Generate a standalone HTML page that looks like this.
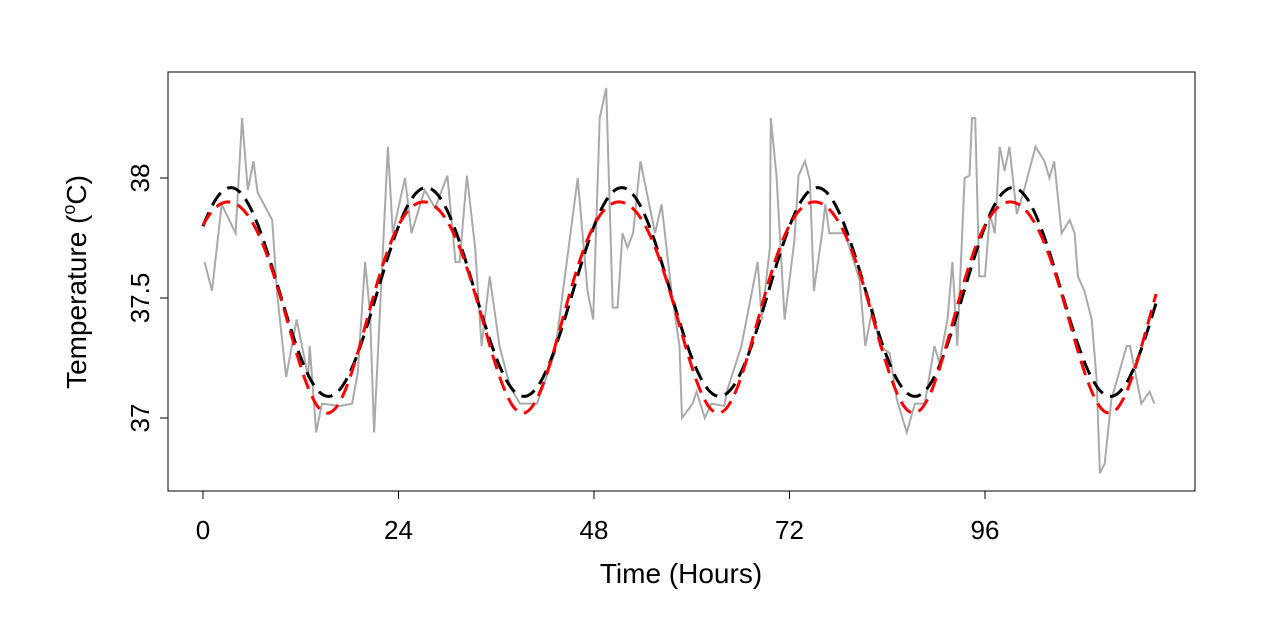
<!DOCTYPE html>
<html><head><meta charset="utf-8"><style>body{margin:0;background:#fff}svg{display:block;font-family:"Liberation Sans",Arial,sans-serif}</style></head>
<body>
<svg id="chart" width="1266" height="635" viewBox="0 0 1266 635" xmlns="http://www.w3.org/2000/svg">
<rect x="168" y="72" width="1027" height="419" fill="none" stroke="#000" stroke-width="1"/>
<g id="marks"></g>
<g id="axes"></g>
<text x="681" y="583" font-size="28" text-anchor="middle">Time (Hours)</text>
<text transform="translate(86,282) rotate(-90)" font-size="28" text-anchor="middle">Temperature (<tspan font-size="18" dy="-11">o</tspan><tspan dy="11">C)</tspan></text>
</svg>
<script>
const obsTime=[0.2,1.1,2.3,4,4.8,5.5,6.2,6.7,8.5,9.1,10.2,11.5,12.9,13.1,13.9,14.6,16.8,18.3,19,19.9,20.5,21,22.7,23.3,24.8,25.6,27.2,28.5,30,31,31.5,32.4,33.4,34.2,35.2,36.4,37.7,38.9,41,43.2,44.2,46,47.2,47.9,48.7,49.5,50.3,50.9,51.5,52.1,52.8,53.7,55.5,56.3,57.5,58.5,58.8,60.1,60.6,61.6,62.4,64,64.3,66.1,68.1,68.6,69.6,69.7,70.4,71.4,72.6,73.1,73.9,74.5,75,76,76.4,76.9,78.8,80.6,81.3,82.2,83.1,84.3,85.2,86.4,87.4,88.6,89.8,90.4,91.4,92,92.6,93.5,94.1,94.4,94.8,95.3,96,96.6,97.2,97.8,98.4,99,99.9,100.8,102.2,103.3,103.9,104.5,105.4,106.4,107,107.4,108.2,109.1,109.7,110.1,110.7,111.5,113.4,113.8,115.2,116.2,116.8];
const obsTemp=[37.65,37.53,37.89,37.77,38.25,37.95,38.07,37.94,37.825,37.52,37.17,37.41,37.17,37.3,36.94,37.06,37.05,37.06,37.19,37.65,37.44,36.94,38.13,37.77,38.0,37.77,37.95,37.875,38.01,37.65,37.65,38.01,37.71,37.3,37.59,37.3,37.13,37.06,37.06,37.27,37.53,38.0,37.53,37.41,38.25,38.375,37.46,37.46,37.77,37.71,37.77,38.07,37.77,37.89,37.53,37.3,37.0,37.06,37.11,37.0,37.06,37.05,37.11,37.3,37.65,37.41,37.71,38.25,38.01,37.41,37.74,38.01,38.07,37.99,37.53,37.77,37.89,37.77,37.77,37.575,37.3,37.46,37.3,37.27,37.075,36.94,37.06,37.06,37.3,37.23,37.41,37.65,37.3,38.0,38.01,38.25,38.25,37.59,37.59,37.85,37.77,38.13,38.03,38.13,37.85,37.95,38.13,38.07,38.0,38.07,37.77,37.825,37.77,37.59,37.53,37.41,37.16,36.77,36.81,37.075,37.3,37.3,37.06,37.11,37.06];
// cosinor fits: [mesor, amplitude, acrophase(h), period(h)]
const blackFit=[37.525,0.435,3.4,24];
// two-harmonic fit: [mesor, a1, phase1, a2, phase2, period]
const redFit=[37.50,0.44,3.2,0.04,9.4,24];
const xTicks=[0,24,48,72,96];
const yTicks=[37,37.5,38];
const tMax=117;

const X=t=>203+t*(985-203)/96;
const Y=v=>418-(v-37)*240;
const NS="http://www.w3.org/2000/svg";
const marks=document.getElementById('marks'), axes=document.getElementById('axes');
function mk(tag,attrs,parent){const e=document.createElementNS(NS,tag);for(const k in attrs)e.setAttribute(k,attrs[k]);parent.appendChild(e);return e;}

let d=obsTime.map((t,i)=>(i?'L':'M')+X(t).toFixed(1)+' '+Y(obsTemp[i]).toFixed(1)).join(' ');
const obs=mk('path',{d:d,fill:'none',stroke:'#aaaaaa','stroke-width':2},marks);



function fitPath(f){let s='';for(let t=0;t<=tMax;t+=0.25){s+=(t?'L':'M')+X(t).toFixed(1)+' '+Y(f(t)).toFixed(1)+' ';}return s;}
const bf=t=>blackFit[0]+blackFit[1]*Math.cos(2*Math.PI*(t-blackFit[2])/blackFit[3]);
const rf=t=>redFit[0]+redFit[1]*Math.cos(2*Math.PI*(t-redFit[2])/redFit[5])+redFit[3]*Math.cos(4*Math.PI*(t-redFit[4])/redFit[5]);
const bl=mk('path',{d:fitPath(bf),fill:'none',stroke:'#000','stroke-width':3,'stroke-dasharray':'15 8'},marks);


const rl=mk('path',{d:fitPath(rf),fill:'none',stroke:'#ff0000','stroke-width':3,'stroke-dasharray':'15 8'},marks);



const xl=mk('line',{x1:X(xTicks[0]),x2:X(xTicks[xTicks.length-1]),y1:491,y2:491,stroke:'#000'},axes);


xTicks.forEach(t=>{
  const tk=mk('line',{x1:X(t),x2:X(t),y1:491,y2:499,stroke:'#000'},axes);
  
  
  const lb=mk('text',{x:X(t),y:539,'font-size':26,'text-anchor':'middle'},axes);
  lb.textContent=t;
  
  
});
const yl=mk('line',{x1:168,x2:168,y1:Y(yTicks[0]),y2:Y(yTicks[yTicks.length-1]),stroke:'#000'},axes);


yTicks.forEach(v=>{
  const tk=mk('line',{x1:160,x2:168,y1:Y(v),y2:Y(v),stroke:'#000'},axes);
  
  
  const lb=mk('text',{transform:'translate(149,'+Y(v)+') rotate(-90)','font-size':26,'text-anchor':'middle'},axes);
  lb.textContent=v;
  
  
});
</script>
</body></html>
